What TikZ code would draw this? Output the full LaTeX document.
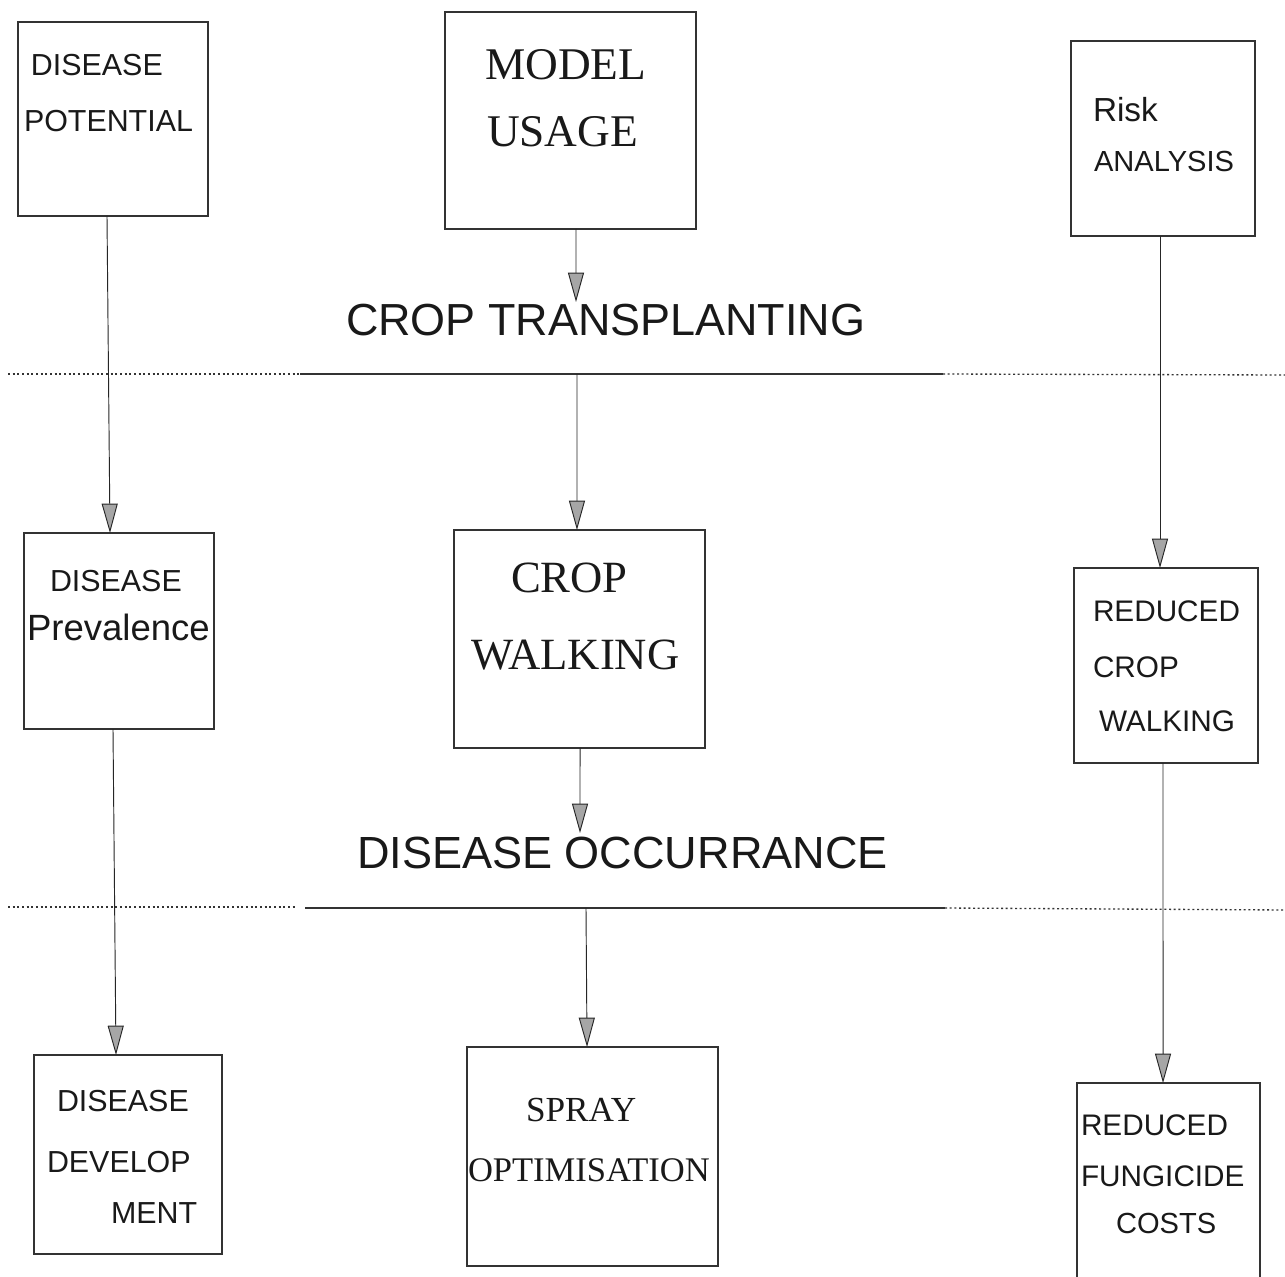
\documentclass[tikz,border=0pt]{standalone}
\usepackage{fontspec}
\setmainfont{Liberation Sans}
\newfontfamily\sansf{Liberation Sans}
\newfontfamily\seriff{Liberation Serif}
\usetikzlibrary{arrows.meta}
\newcommand{\fsz}[1]{\fontsize{#1}{#1}\selectfont}
\begin{document}
\begin{tikzpicture}[x=0.75pt,y=-0.75pt,
  box/.style={draw=black!80, line width=0.8pt, inner sep=0pt, outer sep=0pt, rectangle},
  txt/.style={anchor=base west, inner sep=0pt, outer sep=0pt, text=black!90},
  arr/.style={draw=black!85, line width=0.7pt, -{Triangle[length=22pt,width=12pt,fill=black!35]}},
  sep/.style={draw=black!80, line width=0.8pt},
  sepdot/.style={draw=black!80, line width=1pt, dash pattern=on 1.5pt off 2pt}]
\useasboundingbox (0,0) rectangle (1285,1277);
\clip (0,0) rectangle (1285,1277);
\fill[white] (0,0) rectangle (1285,1277);

% boxes
\node[box, minimum width=142.5pt, minimum height=145.5pt] (b1) at (113,119) {};
\node[box, minimum width=188.25pt, minimum height=162.75pt] (b2) at (570.5,120.5) {};
\node[box, minimum width=138pt, minimum height=146.25pt] (b3) at (1163,138.5) {};
\node[box, minimum width=142.5pt, minimum height=147pt] (b4) at (119,631) {};
\node[box, minimum width=188.25pt, minimum height=163.5pt] (b5) at (579.5,639) {};
\node[box, minimum width=138pt, minimum height=146.25pt] (b6) at (1166,665.5) {};
\node[box, minimum width=141pt, minimum height=149.25pt] (b7) at (128,1154.5) {};
\node[box, minimum width=188.25pt, minimum height=164.25pt] (b8) at (592.5,1156.5) {};
\node[box, minimum width=137.25pt, minimum height=162.75pt] (b9) at (1168.5,1191.5) {};

% box texts
\node[txt] (t1a) at (31,76) {\sansf\fsz{22.8pt}DISEASE};
\node[txt] (t1b) at (24,132) {\sansf\fsz{22.8pt}POTENTIAL};
\node[txt] (t2a) at (485,80) {\seriff\fsz{34pt}MODEL};
\node[txt] (t2b) at (487,147) {\seriff\fsz{34pt}USAGE};
\node[txt] (t3a) at (1093,122) {\sansf\fsz{25pt}Risk};
\node[txt] (t3b) at (1094,172) {\sansf\fsz{21.8pt}ANALYSIS};
\node[txt] (t4a) at (50,591) {\sansf\fsz{22.8pt}DISEASE};
\node[txt] (t4b) at (27,640) {\sansf\fsz{27.4pt}Prevalence};
\node[txt] (t5a) at (511,592) {\seriff\fsz{33.5pt}CROP};
\node[txt] (t5b) at (471,669) {\seriff\fsz{33.5pt}WALKING};
\node[txt] (t6a) at (1093,621) {\sansf\fsz{22.3pt}REDUCED};
\node[txt] (t6b) at (1093,677) {\sansf\fsz{22.3pt}CROP};
\node[txt] (t6c) at (1099,731) {\sansf\fsz{22.3pt}WALKING};
\node[txt] (t7a) at (57,1111) {\sansf\fsz{22.8pt}DISEASE};
\node[txt] (t7b) at (47,1172) {\sansf\fsz{22.8pt}DEVELOP};
\node[txt] (t7c) at (111,1223) {\sansf\fsz{22.8pt}MENT};
\node[txt] (t8a) at (526,1121) {\seriff\fsz{26.4pt}SPRAY};
\node[txt] (t8b) at (468,1181) {\seriff\fsz{25.9pt}OPTIMISATION};
\node[txt] (t9a) at (1081,1135) {\sansf\fsz{22.3pt}REDUCED};
\node[txt] (t9b) at (1081,1186) {\sansf\fsz{22.3pt}FUNGICIDE};
\node[txt] (t9c) at (1116,1233) {\sansf\fsz{21.8pt}COSTS};

% headers
\node[txt] (h1) at (346,335.5) {\sansf\fsz{33.7pt}CROP TRANSPLANTING};
\node[txt] (h2) at (357,868) {\sansf\fsz{33.8pt}DISEASE OCCURRANCE};

% separator lines
\draw[sepdot] (8,374) -- (300,374);
\draw[sep] (300,374) -- (943,374);
\draw[sepdot] (943,374) -- (1285,375);
\draw[sepdot] (8,907) -- (297,907);
\draw[sep] (305,908) -- (945,908);
\draw[sepdot] (945,908) -- (1285,910);

\coordinate (s1) at (577,374);
\coordinate (s2) at (586,908);
\coordinate (h1t) at (576,302);
\coordinate (h2t) at (580,833);

% connectors
\draw[arr] ([xshift=-4.5pt]b1.south) -- ([xshift=-6.75pt]b4.north);
\draw[arr] ([xshift=4.1pt]b2.south) -- (h1t);
\draw[arr] (s1) -- ([xshift=-1.9pt]b5.north);
\draw[arr] ([xshift=-2.25pt]b3.south) -- ([xshift=-4.5pt]b6.north);
\draw[arr] ([xshift=-4.5pt]b4.south) -- ([xshift=-9pt]b7.north);
\draw[arr] ([xshift=0.4pt]b5.south) -- (h2t);
\draw[arr] (s2) -- ([xshift=-4.1pt]b8.north);
\draw[arr] ([xshift=-2.25pt]b6.south) -- ([xshift=-4.1pt]b9.north);
\end{tikzpicture}
\end{document}
